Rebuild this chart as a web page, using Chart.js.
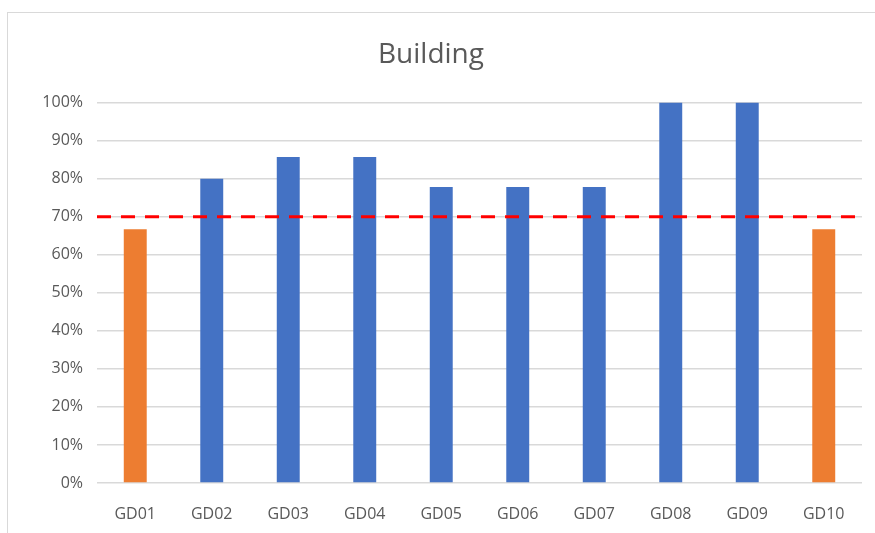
<!DOCTYPE html>
<html>
<head>
<meta charset="utf-8">
<script src="https://cdn.jsdelivr.net/npm/chart.js@4/dist/chart.umd.min.js"></script>
<style>
  html, body { margin: 0; padding: 0; background: #fff; }
  #wrap { position: relative; width: 875px; height: 533px; }
  #frame { position: absolute; left: 7px; top: 12px; width: 880px; height: 540px; border: 1px solid #d9d9d9; box-sizing: border-box; }
  canvas { position: absolute; left: 0; top: 0; }
</style>
</head>
<body>
<div id="wrap">
  <div id="frame"></div>
  <canvas id="chart" width="875" height="533"></canvas>
</div>
<script>
const categories = ['GD01', 'GD02', 'GD03', 'GD04', 'GD05', 'GD06', 'GD07', 'GD08', 'GD09', 'GD10'];
const values = [66.7, 80, 85.7, 85.7, 77.8, 77.8, 77.8, 100, 100, 66.7];
const threshold = [70];

const blue = '#4472C4';
const orange = '#ED7D31';

// below the target the bar turns orange
const barColors = values.map(v => v < threshold[0] ? orange : blue);

const targetLine = {
    id: 'targetLine',
    afterDatasetsDraw(chart) {
        const { ctx, chartArea, scales } = chart;
        const y = scales.y.getPixelForValue(threshold[0]);
        ctx.save();
        ctx.strokeStyle = '#FF0000';
        ctx.lineWidth = 3;
        ctx.setLineDash([14, 10]);
        ctx.beginPath();
        ctx.moveTo(chartArea.left, y);
        ctx.lineTo(chartArea.right, y);
        ctx.stroke();
        ctx.restore();
    }
};

const ctx = document.getElementById('chart').getContext('2d');
new Chart(ctx, {
    type: 'bar',
    data: {
        labels: categories,
        datasets: [{
            data: values,
            backgroundColor: barColors,
            barPercentage: 0.3,
            categoryPercentage: 1
        }]
    },
    options: {
        responsive: false,
        animation: false,
        layout: { padding: { top: 32, right: 13, left: 0, bottom: 0 } },
        plugins: {
            legend: { display: false },
            tooltip: { enabled: false },
            title: {
                display: true,
                text: 'Building',
                color: '#595959',
                font: { family: 'Open Sans', size: 28, weight: 'normal' },
                padding: { top: 6, bottom: 31 }
            }
        },
        scales: {
            x: {
                grid: { display: false },
                border: { display: false },
                ticks: { color: '#595959', font: { family: 'Open Sans', size: 16 }, padding: 14 },
                afterFit(scale) { scale.height = 50; }
            },
            y: {
                min: 0,
                max: 100,
                grid: { color: '#d9d9d9', lineWidth: 1.5, drawTicks: false },
                border: { display: false },
                ticks: {
                    stepSize: 10,
                    color: '#595959',
                    font: { family: 'Open Sans', size: 16 },
                    padding: 14,
                    callback: v => v + '%'
                },
                afterFit(scale) { scale.width = 97; }
            }
        }
    },
    plugins: [targetLine]
});
</script>
</body>
</html>
